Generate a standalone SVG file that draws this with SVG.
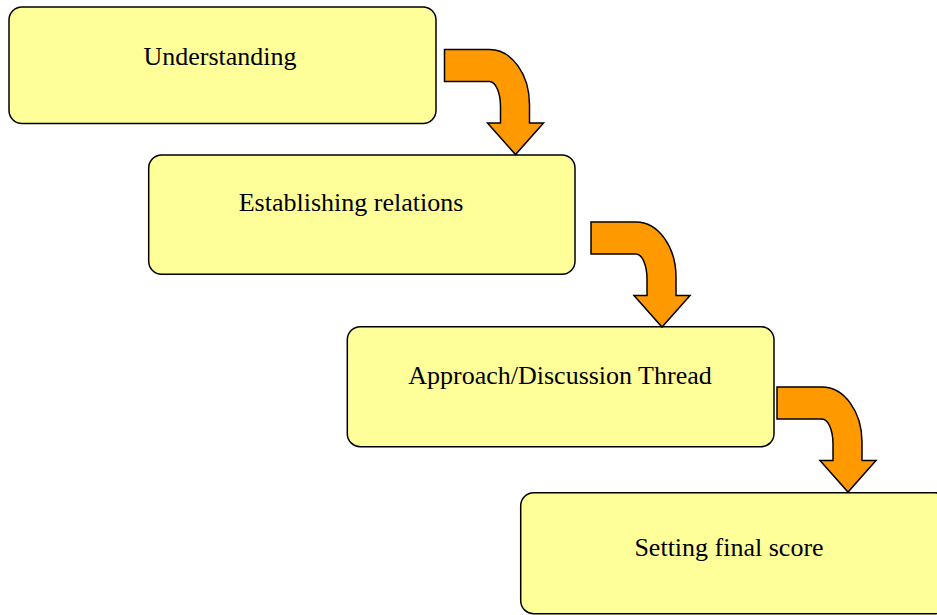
<svg xmlns="http://www.w3.org/2000/svg" width="937" height="615" viewBox="0 0 937 615">
  <style>
    .box { fill: #FFFF99; stroke: #000; stroke-width: 1.5; }
    .lbl { font-family: "Liberation Serif", "Times New Roman", serif; font-size: 26px; fill: #000; text-anchor: middle; }
    .arr { fill: #FF9900; stroke: #000; stroke-width: 1.5; stroke-linejoin: miter; }
  </style>
  <defs>
    <path id="bent" d="M0,0 H45 A40,55 0 0 1 85,55 V73.5 H99 L71,105 L43,73.5 H56 V57 A11,25 0 0 0 45,32 H0 Z"/>
  </defs>
  <rect width="937" height="615" fill="#fff"/>
  <g id="node-understanding">
    <rect class="box" x="9" y="7" width="427" height="116.5" rx="13"/>
    <text class="lbl" x="220" y="65">Understanding</text>
  </g>
  <g id="node-establishing">
    <rect class="box" x="148.7" y="155" width="426.3" height="119.3" rx="13"/>
    <text class="lbl" x="351" y="211">Establishing relations</text>
  </g>
  <g id="node-approach">
    <rect class="box" x="347.3" y="326.7" width="426.7" height="120" rx="13"/>
    <text class="lbl" x="560" y="383.5">Approach/Discussion Thread</text>
  </g>
  <g id="node-setting">
    <rect class="box" x="520.7" y="492.7" width="427" height="121" rx="13"/>
    <text class="lbl" x="729" y="556">Setting final score</text>
  </g>
  <g id="connectors">
    <use href="#bent" class="arr" transform="translate(444.5,49.5)"/>
    <use href="#bent" class="arr" transform="translate(591,222)"/>
    <use href="#bent" class="arr" transform="translate(777,387)"/>
  </g>
</svg>
